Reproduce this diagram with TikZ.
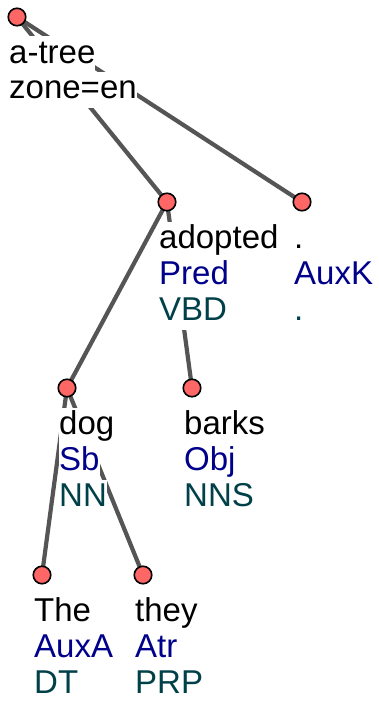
\documentclass[tikz,border=0pt]{standalone}
\usepackage{fontspec}
\setmainfont{Liberation Sans}
\definecolor{edgegray}{HTML}{555555}
\definecolor{dotred}{HTML}{FF6666}
\definecolor{afunblue}{HTML}{00008B}
\definecolor{tagteal}{HTML}{004048}
\pgfdeclarelayer{bglayer}
\pgfdeclarelayer{edgelayer}
\pgfdeclarelayer{labellayer}
\pgfsetlayers{bglayer,edgelayer,labellayer,main}
\tikzset{
  dot/.style={circle, draw=black, line width=1.6pt, fill=dotred, minimum size=17.5pt, inner sep=0pt},
  treeedge/.style={draw=edgegray, line width=4.2pt},
  lbl/.style={anchor=base west, fill=white, inner sep=0pt, text height=27pt, text depth=9pt,
    font=\fontsize{33}{37}\selectfont},
  formlbl/.style={lbl, text=black},
  afunlbl/.style={lbl, text=afunblue},
  taglbl/.style={lbl, text=tagteal},
}
\newcommand{\tnode}[6]{%
  \node[dot] (#1) at (#2,#3) {};
  \begin{pgfonlayer}{labellayer}
    \node[formlbl] (#1-form) at (#2-8,#3+46.5) {#4};
    \node[afunlbl] (#1-afun) at (#2-8,#3+82.5) {#5};
    \node[taglbl]  (#1-tag)  at (#2-8,#3+118.5) {#6};
  \end{pgfonlayer}
}
\begin{document}
\begin{tikzpicture}[x=1pt,y=-1pt]
\begin{pgfonlayer}{bglayer}
  \fill[white] (0,0) rectangle (379,702);
\end{pgfonlayer}
\useasboundingbox (0,0) rectangle (379,702);
\node[dot] (root) at (17,17) {};
\begin{pgfonlayer}{labellayer}
  \node[formlbl] (root-l1) at (9,63) {a-tree};
  \node[formlbl] (root-l2) at (9,98.5) {zone=en};
\end{pgfonlayer}
\tnode{adopted}{167}{202}{adopted}{Pred}{VBD}
\tnode{period}{302}{202}{.}{AuxK}{.}
\tnode{dog}{67}{388}{dog}{Sb}{NN}
\tnode{barks}{192}{388}{barks}{Obj}{NNS}
\tnode{the}{42}{575}{The}{AuxA}{DT}
\tnode{they}{143}{575}{they}{Atr}{PRP}
\begin{pgfonlayer}{edgelayer}
  \draw[treeedge] (root.center) -- (adopted.center);
  \draw[treeedge] (root.center) -- (period.center);
  \draw[treeedge] (adopted.center) -- (dog.center);
  \draw[treeedge] (adopted.center) -- (barks.center);
  \draw[treeedge] (dog.center) -- (the.center);
  \draw[treeedge] (dog.center) -- (they.center);
\end{pgfonlayer}
\end{tikzpicture}
\end{document}
